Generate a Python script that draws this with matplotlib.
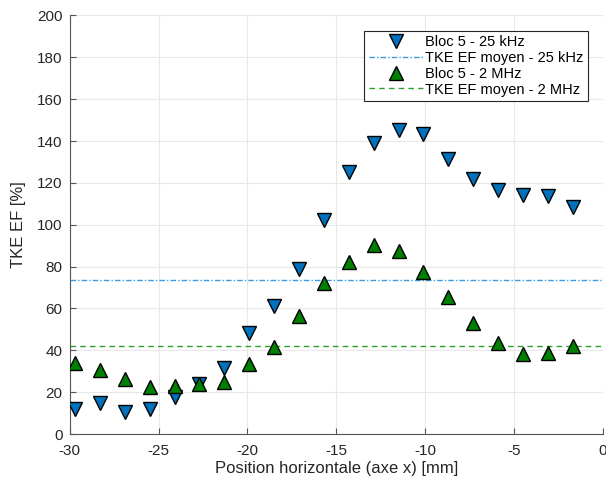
import matplotlib
matplotlib.use("Agg")
import matplotlib.pyplot as plt
import numpy as np

plt.rcParams['font.family'] = ['Liberation Sans', 'DejaVu Sans']
plt.rcParams['axes.unicode_minus'] = False

# Horizontal position of measurement points [mm]
x_pos = [-29.7, -28.3, -26.9, -25.5, -24.1, -22.7, -21.3, -19.9, -18.5, -17.1, -15.7,
         -14.3, -12.9, -11.5, -10.1, -8.7, -7.3, -5.9, -4.5, -3.1, -1.7]

# TKE EF [%] - bloc 5
tke_25khz = [12.2, 14.6, 10.6, 11.9, 17.8, 24.1, 31.6, 48.4, 61.1, 78.9, 102.2,
             125.4, 139.2, 145.2, 143.2, 131.3, 121.7, 116.7, 114.3, 113.8, 108.3]
tke_2mhz = [34.1, 30.6, 26.2, 22.7, 23.0, 23.8, 25.1, 33.6, 41.8, 56.3, 72.2,
            82.4, 90.3, 87.3, 77.5, 65.7, 53.2, 43.5, 38.3, 38.7, 41.9]

mean_25khz = 73.8
mean_2mhz = 42.0

x_limits = [-30, 0]

fig = plt.figure(figsize=(6.06, 4.82), dpi=100)
ax = fig.add_axes([0.115, 0.0995, 0.88, 0.8685])

txt_col = '#262626'

ax.plot(x_pos, tke_25khz, linestyle='none', marker='v', markersize=10,
        markerfacecolor='#0072BD', markeredgecolor='black', markeredgewidth=1.0,
        label='Bloc 5 - 25 kHz', zorder=3)
ax.plot(x_limits, [mean_25khz, mean_25khz], linestyle=(0, (4, 1.5, 1, 1.5)),
        color='#3c9be0', linewidth=1.0, label='TKE EF moyen - 25 kHz', zorder=2)
ax.plot(x_pos, tke_2mhz, linestyle='none', marker='^', markersize=10,
        markerfacecolor='#008000', markeredgecolor='black', markeredgewidth=1.0,
        label='Bloc 5 - 2 MHz', zorder=3)
ax.plot(x_limits, [mean_2mhz, mean_2mhz], linestyle=(0, (4, 3)),
        color='#2ca02c', linewidth=1.0, label='TKE EF moyen - 2 MHz', zorder=2)

ax.set_xlim(x_limits)
ax.set_ylim(0, 200)
ax.set_xticks(np.arange(-30, 1, 5))
ax.set_yticks(np.arange(0, 201, 20))

ax.grid(True, color='#e8e8e8', linewidth=0.8)
ax.set_axisbelow(True)
for side in ['top', 'right']:
    ax.spines[side].set_visible(False)
for side in ['left', 'bottom']:
    ax.spines[side].set_color('#555555')
    ax.spines[side].set_linewidth(0.8)
ax.tick_params(direction='in', length=4, width=0.8, color='#555555',
               labelsize=11, labelcolor=txt_col)
ax.tick_params(axis='x', pad=7)
ax.tick_params(axis='y', pad=5)

ax.set_xlabel('Position horizontale (axe x) [mm]', fontsize=12, color=txt_col, labelpad=2)
ax.set_ylabel('TKE EF [%]', fontsize=12, color=txt_col, labelpad=8)

leg = ax.legend(loc='upper right', bbox_to_anchor=(0.971, 0.963), fontsize=10.5,
                frameon=True, fancybox=False, edgecolor='#262626', framealpha=1,
                handlelength=3.7, handletextpad=0.15, labelspacing=0.12,
                borderpad=0.3, borderaxespad=0)
leg.get_frame().set_linewidth(0.8)

fig.savefig('out.png', dpi=100)
